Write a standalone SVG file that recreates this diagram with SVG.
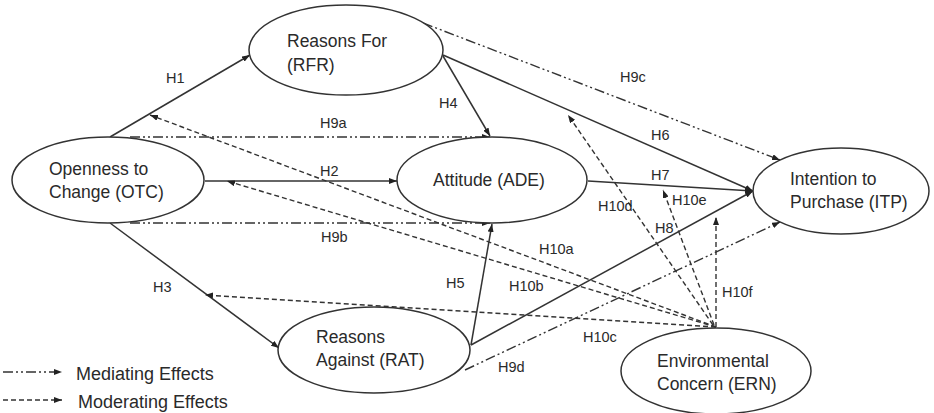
<svg xmlns="http://www.w3.org/2000/svg" width="934" height="413" viewBox="0 0 934 413">
<style>
.node ellipse{fill:#fff;stroke:#333;stroke-width:1.5}
.node text{font-family:"Liberation Sans",Arial,sans-serif;font-size:17.5px;fill:#2a2a2a}
.lbl{font-family:"Liberation Sans",Arial,sans-serif;font-size:14.5px;fill:#2a2a2a}
.leg{font-family:"Liberation Sans",Arial,sans-serif;font-size:18px;fill:#2a2a2a}
.solid{stroke:#333;stroke-width:1.5;fill:none;marker-end:url(#ah)}
.med{stroke:#333;stroke-width:1.4;fill:none;stroke-dasharray:10 3 2 3 2 3;marker-end:url(#ah)}
.mod{stroke:#333;stroke-width:1.4;fill:none;stroke-dasharray:5 3;marker-end:url(#ah)}
</style>
<defs>
<marker id="ah" viewBox="0 0 8 6" refX="8" refY="3" markerWidth="8" markerHeight="6" markerUnits="userSpaceOnUse" orient="auto">
<path d="M0,0 L8,3 L0,6 z" fill="#222"/>
</marker>
</defs>
<rect width="934" height="413" fill="#fff"/>
<g id="connectors">
<line class="solid" x1="110" y1="137" x2="250" y2="55"/>
<line class="solid" x1="205" y1="181" x2="397" y2="181"/>
<line class="solid" x1="110" y1="223" x2="279" y2="348"/>
<line class="solid" x1="443" y1="56" x2="490" y2="136"/>
<line class="solid" x1="471" y1="345" x2="492" y2="224"/>
<line class="solid" x1="443" y1="55" x2="753" y2="191"/>
<line class="solid" x1="588" y1="181" x2="753" y2="191"/>
<line class="solid" x1="471" y1="345" x2="753" y2="191"/>
<line class="med" x1="130" y1="137" x2="490" y2="137"/>
<line class="med" x1="130" y1="223" x2="490" y2="223"/>
<line class="med" x1="423" y1="23" x2="780" y2="160"/>
<line class="med" x1="465" y1="370" x2="780" y2="222"/>
<line class="mod" x1="716" y1="327" x2="150" y2="115"/>
<line class="mod" x1="716" y1="327" x2="227" y2="181"/>
<line class="mod" x1="716" y1="327" x2="205" y2="295"/>
<line class="mod" x1="713" y1="325" x2="568" y2="115"/>
<line class="mod" x1="714" y1="325" x2="663" y2="190"/>
<line class="mod" x1="716" y1="327" x2="716" y2="217"/>
<line class="med" x1="3" y1="372" x2="62" y2="372"/>
<line class="mod" x1="3" y1="400" x2="62" y2="400"/>
</g>
<g id="labels">
<text class="lbl" x="166" y="83">H1</text>
<text class="lbl" x="320" y="176">H2</text>
<text class="lbl" x="153" y="292">H3</text>
<text class="lbl" x="439" y="108">H4</text>
<text class="lbl" x="446" y="288">H5</text>
<text class="lbl" x="651" y="140">H6</text>
<text class="lbl" x="651" y="180">H7</text>
<text class="lbl" x="655" y="233">H8</text>
<text class="lbl" x="320" y="128">H9a</text>
<text class="lbl" x="321" y="242">H9b</text>
<text class="lbl" x="620" y="82">H9c</text>
<text class="lbl" x="498" y="372">H9d</text>
<text class="lbl" x="539" y="254">H10a</text>
<text class="lbl" x="509" y="291">H10b</text>
<text class="lbl" x="583" y="342">H10c</text>
<text class="lbl" x="598" y="211">H10d</text>
<text class="lbl" x="672" y="205">H10e</text>
<text class="lbl" x="722" y="297">H10f</text>
<text class="leg" x="76" y="380">Mediating Effects</text>
<text class="leg" x="78" y="408">Moderating Effects</text>
</g>
<g id="RFR" class="node">
<ellipse cx="346" cy="50" rx="97" ry="45"/>
<text x="287" y="47">Reasons For</text>
<text x="287" y="71">(RFR)</text>
</g>
<g id="OTC" class="node">
<ellipse cx="108" cy="180" rx="96" ry="43"/>
<text x="49" y="175">Openness to</text>
<text x="49" y="198">Change (OTC)</text>
</g>
<g id="ADE" class="node">
<ellipse cx="492" cy="180" rx="95" ry="43"/>
<text x="433" y="186">Attitude (ADE)</text>
</g>
<g id="ITP" class="node">
<ellipse cx="841" cy="191" rx="88" ry="43"/>
<text x="790" y="185">Intention to</text>
<text x="790" y="208">Purchase (ITP)</text>
</g>
<g id="RAT" class="node">
<ellipse cx="374" cy="350" rx="96" ry="43"/>
<text x="316" y="343">Reasons</text>
<text x="316" y="366">Against (RAT)</text>
</g>
<g id="ERN" class="node">
<ellipse cx="716" cy="371" rx="95" ry="43"/>
<text x="657" y="367">Environmental</text>
<text x="657" y="390">Concern (ERN)</text>
</g>
</svg>
